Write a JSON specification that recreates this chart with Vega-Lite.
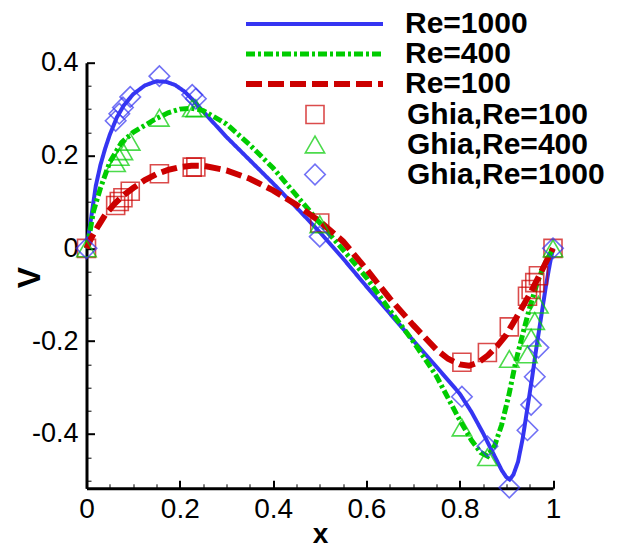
{
  "$schema": "https://vega.github.io/schema/vega-lite/v6.json",
  "width": 466.5,
  "height": 425.6,
  "autosize": {"type": "none"},
  "padding": {"left": 86.5, "top": 62.7, "right": 68, "bottom": 57.7},
  "config": {
    "view": {"stroke": null},
    "font": "Liberation Sans",
    "axis": {"grid": false, "labelFont": "Liberation Sans", "titleFont": "Liberation Sans", "labelColor": "black", "titleColor": "black", "tickColor": "black", "domainColor": "black", "labelFlush": false, "labelOverlap": false, "tickCap": "butt"},
    "legend": {"labelFont": "Liberation Sans", "labelColor": "black", "labelLimit": 0}
  },
  "datasets": {
    "lines": [
      {"re": "Re=1000", "x": 0, "v": 0}, {"re": "Re=1000", "x": 0.005, "v": 0.032}, {"re": "Re=1000", "x": 0.01, "v": 0.066}, {"re": "Re=1000", "x": 0.02, "v": 0.135}, {"re": "Re=1000", "x": 0.03, "v": 0.18}, {"re": "Re=1000", "x": 0.04, "v": 0.215}, {"re": "Re=1000", "x": 0.05, "v": 0.245}, {"re": "Re=1000", "x": 0.065, "v": 0.282}, {"re": "Re=1000", "x": 0.08, "v": 0.308}, {"re": "Re=1000", "x": 0.1, "v": 0.332}, {"re": "Re=1000", "x": 0.125, "v": 0.351}, {"re": "Re=1000", "x": 0.15, "v": 0.36}, {"re": "Re=1000", "x": 0.17, "v": 0.359}, {"re": "Re=1000", "x": 0.19, "v": 0.352}, {"re": "Re=1000", "x": 0.21, "v": 0.338}, {"re": "Re=1000", "x": 0.23, "v": 0.318}, {"re": "Re=1000", "x": 0.25, "v": 0.295}, {"re": "Re=1000", "x": 0.3, "v": 0.24}, {"re": "Re=1000", "x": 0.35, "v": 0.19}, {"re": "Re=1000", "x": 0.4, "v": 0.14}, {"re": "Re=1000", "x": 0.45, "v": 0.088}, {"re": "Re=1000", "x": 0.5, "v": 0.035}, {"re": "Re=1000", "x": 0.55, "v": -0.022}, {"re": "Re=1000", "x": 0.6, "v": -0.082}, {"re": "Re=1000", "x": 0.65, "v": -0.14}, {"re": "Re=1000", "x": 0.7, "v": -0.198}, {"re": "Re=1000", "x": 0.75, "v": -0.255}, {"re": "Re=1000", "x": 0.8, "v": -0.313}, {"re": "Re=1000", "x": 0.825, "v": -0.352}, {"re": "Re=1000", "x": 0.85, "v": -0.398}, {"re": "Re=1000", "x": 0.875, "v": -0.448}, {"re": "Re=1000", "x": 0.89, "v": -0.478}, {"re": "Re=1000", "x": 0.9, "v": -0.493}, {"re": "Re=1000", "x": 0.907, "v": -0.498}, {"re": "Re=1000", "x": 0.915, "v": -0.488}, {"re": "Re=1000", "x": 0.925, "v": -0.46}, {"re": "Re=1000", "x": 0.935, "v": -0.41}, {"re": "Re=1000", "x": 0.945, "v": -0.345}, {"re": "Re=1000", "x": 0.955, "v": -0.28}, {"re": "Re=1000", "x": 0.965, "v": -0.21}, {"re": "Re=1000", "x": 0.975, "v": -0.145}, {"re": "Re=1000", "x": 0.985, "v": -0.08}, {"re": "Re=1000", "x": 0.993, "v": -0.035}, {"re": "Re=1000", "x": 1, "v": 0},
      {"re": "Re=400", "x": 0, "v": 0}, {"re": "Re=400", "x": 0.005, "v": 0.022}, {"re": "Re=400", "x": 0.015, "v": 0.08}, {"re": "Re=400", "x": 0.03, "v": 0.13}, {"re": "Re=400", "x": 0.05, "v": 0.186}, {"re": "Re=400", "x": 0.075, "v": 0.228}, {"re": "Re=400", "x": 0.1, "v": 0.25}, {"re": "Re=400", "x": 0.125, "v": 0.265}, {"re": "Re=400", "x": 0.15, "v": 0.28}, {"re": "Re=400", "x": 0.175, "v": 0.292}, {"re": "Re=400", "x": 0.2, "v": 0.3}, {"re": "Re=400", "x": 0.225, "v": 0.302}, {"re": "Re=400", "x": 0.25, "v": 0.297}, {"re": "Re=400", "x": 0.3, "v": 0.268}, {"re": "Re=400", "x": 0.35, "v": 0.223}, {"re": "Re=400", "x": 0.4, "v": 0.173}, {"re": "Re=400", "x": 0.45, "v": 0.114}, {"re": "Re=400", "x": 0.5, "v": 0.055}, {"re": "Re=400", "x": 0.55, "v": -0.003}, {"re": "Re=400", "x": 0.6, "v": -0.063}, {"re": "Re=400", "x": 0.65, "v": -0.133}, {"re": "Re=400", "x": 0.7, "v": -0.2}, {"re": "Re=400", "x": 0.75, "v": -0.275}, {"re": "Re=400", "x": 0.8, "v": -0.37}, {"re": "Re=400", "x": 0.825, "v": -0.413}, {"re": "Re=400", "x": 0.845, "v": -0.44}, {"re": "Re=400", "x": 0.86, "v": -0.448}, {"re": "Re=400", "x": 0.875, "v": -0.425}, {"re": "Re=400", "x": 0.89, "v": -0.38}, {"re": "Re=400", "x": 0.905, "v": -0.318}, {"re": "Re=400", "x": 0.92, "v": -0.245}, {"re": "Re=400", "x": 0.935, "v": -0.185}, {"re": "Re=400", "x": 0.95, "v": -0.128}, {"re": "Re=400", "x": 0.965, "v": -0.078}, {"re": "Re=400", "x": 0.98, "v": -0.038}, {"re": "Re=400", "x": 1, "v": 0},
      {"re": "Re=100", "x": 0, "v": 0}, {"re": "Re=100", "x": 0.01, "v": 0.022}, {"re": "Re=100", "x": 0.025, "v": 0.048}, {"re": "Re=100", "x": 0.04, "v": 0.072}, {"re": "Re=100", "x": 0.06, "v": 0.096}, {"re": "Re=100", "x": 0.08, "v": 0.115}, {"re": "Re=100", "x": 0.1, "v": 0.13}, {"re": "Re=100", "x": 0.125, "v": 0.147}, {"re": "Re=100", "x": 0.15, "v": 0.16}, {"re": "Re=100", "x": 0.175, "v": 0.169}, {"re": "Re=100", "x": 0.2, "v": 0.175}, {"re": "Re=100", "x": 0.225, "v": 0.178}, {"re": "Re=100", "x": 0.25, "v": 0.178}, {"re": "Re=100", "x": 0.3, "v": 0.168}, {"re": "Re=100", "x": 0.35, "v": 0.15}, {"re": "Re=100", "x": 0.4, "v": 0.125}, {"re": "Re=100", "x": 0.45, "v": 0.094}, {"re": "Re=100", "x": 0.5, "v": 0.058}, {"re": "Re=100", "x": 0.55, "v": 0.015}, {"re": "Re=100", "x": 0.6, "v": -0.045}, {"re": "Re=100", "x": 0.65, "v": -0.108}, {"re": "Re=100", "x": 0.7, "v": -0.165}, {"re": "Re=100", "x": 0.75, "v": -0.218}, {"re": "Re=100", "x": 0.775, "v": -0.238}, {"re": "Re=100", "x": 0.8, "v": -0.25}, {"re": "Re=100", "x": 0.82, "v": -0.253}, {"re": "Re=100", "x": 0.84, "v": -0.246}, {"re": "Re=100", "x": 0.86, "v": -0.231}, {"re": "Re=100", "x": 0.88, "v": -0.211}, {"re": "Re=100", "x": 0.9, "v": -0.186}, {"re": "Re=100", "x": 0.925, "v": -0.143}, {"re": "Re=100", "x": 0.95, "v": -0.099}, {"re": "Re=100", "x": 0.975, "v": -0.05}, {"re": "Re=100", "x": 1, "v": 0}
    ],
    "ghia": [
      {"g": "Ghia,Re=100", "x": 1.0, "v": 0}, {"g": "Ghia,Re=100", "x": 0.9688, "v": -0.05906}, {"g": "Ghia,Re=100", "x": 0.9609, "v": -0.07391}, {"g": "Ghia,Re=100", "x": 0.9531, "v": -0.08864}, {"g": "Ghia,Re=100", "x": 0.9453, "v": -0.10313}, {"g": "Ghia,Re=100", "x": 0.9063, "v": -0.16914}, {"g": "Ghia,Re=100", "x": 0.8594, "v": -0.22445}, {"g": "Ghia,Re=100", "x": 0.8047, "v": -0.24533}, {"g": "Ghia,Re=100", "x": 0.5, "v": 0.05454}, {"g": "Ghia,Re=100", "x": 0.2344, "v": 0.17527}, {"g": "Ghia,Re=100", "x": 0.2266, "v": 0.17507}, {"g": "Ghia,Re=100", "x": 0.1563, "v": 0.16077}, {"g": "Ghia,Re=100", "x": 0.0938, "v": 0.12317}, {"g": "Ghia,Re=100", "x": 0.0781, "v": 0.1089}, {"g": "Ghia,Re=100", "x": 0.0703, "v": 0.10091}, {"g": "Ghia,Re=100", "x": 0.0625, "v": 0.09233}, {"g": "Ghia,Re=100", "x": 0, "v": 0},
      {"g": "Ghia,Re=400", "x": 1.0, "v": 0}, {"g": "Ghia,Re=400", "x": 0.9688, "v": -0.12146}, {"g": "Ghia,Re=400", "x": 0.9609, "v": -0.15663}, {"g": "Ghia,Re=400", "x": 0.9531, "v": -0.19254}, {"g": "Ghia,Re=400", "x": 0.9453, "v": -0.22847}, {"g": "Ghia,Re=400", "x": 0.9063, "v": -0.23827}, {"g": "Ghia,Re=400", "x": 0.8594, "v": -0.44993}, {"g": "Ghia,Re=400", "x": 0.8047, "v": -0.38598}, {"g": "Ghia,Re=400", "x": 0.5, "v": 0.05186}, {"g": "Ghia,Re=400", "x": 0.2344, "v": 0.30174}, {"g": "Ghia,Re=400", "x": 0.2266, "v": 0.30203}, {"g": "Ghia,Re=400", "x": 0.1563, "v": 0.28124}, {"g": "Ghia,Re=400", "x": 0.0938, "v": 0.22965}, {"g": "Ghia,Re=400", "x": 0.0781, "v": 0.2092}, {"g": "Ghia,Re=400", "x": 0.0703, "v": 0.19713}, {"g": "Ghia,Re=400", "x": 0.0625, "v": 0.1836}, {"g": "Ghia,Re=400", "x": 0, "v": 0},
      {"g": "Ghia,Re=1000", "x": 1.0, "v": 0}, {"g": "Ghia,Re=1000", "x": 0.9688, "v": -0.21388}, {"g": "Ghia,Re=1000", "x": 0.9609, "v": -0.27669}, {"g": "Ghia,Re=1000", "x": 0.9531, "v": -0.33714}, {"g": "Ghia,Re=1000", "x": 0.9453, "v": -0.39188}, {"g": "Ghia,Re=1000", "x": 0.9063, "v": -0.5155}, {"g": "Ghia,Re=1000", "x": 0.8594, "v": -0.42665}, {"g": "Ghia,Re=1000", "x": 0.8047, "v": -0.31966}, {"g": "Ghia,Re=1000", "x": 0.5, "v": 0.02526}, {"g": "Ghia,Re=1000", "x": 0.2344, "v": 0.32235}, {"g": "Ghia,Re=1000", "x": 0.2266, "v": 0.33075}, {"g": "Ghia,Re=1000", "x": 0.1563, "v": 0.37095}, {"g": "Ghia,Re=1000", "x": 0.0938, "v": 0.32627}, {"g": "Ghia,Re=1000", "x": 0.0781, "v": 0.30353}, {"g": "Ghia,Re=1000", "x": 0.0703, "v": 0.29012}, {"g": "Ghia,Re=1000", "x": 0.0625, "v": 0.27485}, {"g": "Ghia,Re=1000", "x": 0, "v": 0}
    ]
  },
  "layer": [
    {
      "data": {"name": "lines"},
      "mark": {"type": "line", "strokeCap": "butt"},
      "encoding": {
        "x": {"field": "x", "type": "quantitative", "scale": {"domain": [0, 1], "nice": false, "zero": false},
          "axis": {"orient": "bottom", "values": [0, 0.2, 0.4, 0.6, 0.8, 1], "title": "x", "domainWidth": 3, "ticks": false, "labelFontSize": 28, "labelPadding": 7, "labelExpr": "replace(format(datum.value, '~g'), '\u2212', '-')", "titleFontSize": 28, "titleFontWeight": "bold", "titleX": 233.5, "titleY": 54.5, "titleBaseline": "alphabetic", "titleAlign": "center"}},
        "y": {"field": "v", "type": "quantitative", "scale": {"domain": [-0.517, 0.4], "nice": false, "zero": false},
          "axis": {"orient": "left", "values": [-0.4, -0.2, 0, 0.2, 0.4], "title": "V", "domainWidth": 3, "ticks": false, "labelFontSize": 27, "labelPadding": 8.5, "labelExpr": "replace(format(datum.value, '~g'), '\u2212', '-')", "titleFontSize": 32, "titleFontWeight": "bold", "titleX": -57.5, "titleY": 214.3, "titleAngle": -90, "titleBaseline": "middle", "titleAlign": "center"}},
        "color": {"field": "re", "type": "nominal", "scale": {"domain": ["Re=1000", "Re=400", "Re=100"], "range": ["#3535f2", "#00cc00", "#cc0000"]},
          "legend": {"orient": "none", "legendX": 156.5, "legendY": -53.7, "title": null, "symbolType": "stroke", "symbolSize": 18769, "labelFontSize": 30, "labelFontWeight": "bold", "labelOffset": 19, "clipHeight": 30, "rowPadding": 0, "padding": 0, "columns": 1}},
        "strokeDash": {"field": "re", "type": "nominal", "scale": {"domain": ["Re=1000", "Re=400", "Re=100"], "range": [[1, 0], [9, 3, 3, 3], [16, 6]]},
          "legend": {"orient": "none", "legendX": 156.5, "legendY": -53.7, "title": null, "symbolType": "stroke", "symbolSize": 18769, "labelFontSize": 30, "labelFontWeight": "bold", "labelOffset": 19, "clipHeight": 30, "rowPadding": 0, "padding": 0, "columns": 1}},
        "strokeWidth": {"field": "re", "type": "nominal", "scale": {"domain": ["Re=1000", "Re=400", "Re=100"], "range": [4, 6, 4.5]},
          "legend": {"orient": "none", "legendX": 156.5, "legendY": -53.7, "title": null, "symbolType": "stroke", "symbolSize": 18769, "labelFontSize": 30, "labelFontWeight": "bold", "labelOffset": 19, "clipHeight": 30, "rowPadding": 0, "padding": 0, "columns": 1}}
      }
    },
    {
      "data": {"name": "ghia"},
      "mark": {"type": "point", "filled": false, "strokeWidth": 1.6},
      "encoding": {
        "x": {"field": "x", "type": "quantitative", "scale": {"domain": [0, 1], "nice": false, "zero": false},
          "axis": {"orient": "bottom", "offset": -8, "values": [0, 0.2, 0.4, 0.6, 0.8, 1], "title": null, "domain": false, "labels": false, "tickSize": 8, "tickWidth": 2}},
        "y": {"field": "v", "type": "quantitative", "scale": {"domain": [-0.517, 0.4], "nice": false, "zero": false},
          "axis": {"orient": "left", "offset": -8, "values": [-0.4, -0.2, 0, 0.2, 0.4], "title": null, "domain": false, "labels": false, "tickSize": 8, "tickWidth": 2}},
        "color": {"field": "g", "type": "nominal", "scale": {"domain": ["Ghia,Re=100", "Ghia,Re=400", "Ghia,Re=1000"], "range": ["#cc0000", "#00cc00", "#3535f2"]},
          "legend": {"orient": "none", "legendX": 213.5, "legendY": 36.8, "title": null, "labelFontSize": 30, "labelFontWeight": "bold", "labelOffset": 77, "clipHeight": 30, "rowPadding": 0, "padding": 0, "columns": 1, "symbolStrokeWidth": 1.6}},
        "shape": {"field": "g", "type": "nominal", "scale": {"domain": ["Ghia,Re=100", "Ghia,Re=400", "Ghia,Re=1000"], "range": ["square", "triangle-up", "diamond"]},
          "legend": {"orient": "none", "legendX": 213.5, "legendY": 36.8, "title": null, "labelFontSize": 30, "labelFontWeight": "bold", "labelOffset": 77, "clipHeight": 30, "rowPadding": 0, "padding": 0, "columns": 1, "symbolStrokeWidth": 1.6}},
        "size": {"field": "g", "type": "nominal", "scale": {"domain": ["Ghia,Re=100", "Ghia,Re=400", "Ghia,Re=1000"], "range": [324, 420, 529]},
          "legend": {"orient": "none", "legendX": 213.5, "legendY": 36.8, "title": null, "labelFontSize": 30, "labelFontWeight": "bold", "labelOffset": 77, "clipHeight": 30, "rowPadding": 0, "padding": 0, "columns": 1, "symbolStrokeWidth": 1.6}}
      }
    },
    {
      "data": {"name": "lines"},
      "mark": {"type": "point", "opacity": 0},
      "encoding": {
        "x": {"field": "x", "type": "quantitative", "scale": {"domain": [0, 1], "nice": false, "zero": false},
          "axis": {"orient": "bottom", "offset": -4.5, "values": [0.05, 0.1, 0.15, 0.25, 0.3, 0.35, 0.45, 0.5, 0.55, 0.65, 0.7, 0.75, 0.85, 0.9, 0.95], "title": null, "domain": false, "labels": false, "tickSize": 4.5, "tickWidth": 1}},
        "y": {"field": "v", "type": "quantitative", "scale": {"domain": [-0.517, 0.4], "nice": false, "zero": false},
          "axis": {"orient": "left", "offset": -4.5, "values": [-0.5, -0.45, -0.35, -0.3, -0.25, -0.15, -0.1, -0.05, 0.05, 0.1, 0.15, 0.25, 0.3, 0.35], "title": null, "domain": false, "labels": false, "tickSize": 4.5, "tickWidth": 1}}
      }
    }
  ],
  "resolve": {"scale": {"color": "independent", "strokeDash": "independent", "strokeWidth": "independent", "shape": "independent", "size": "independent"}, "axis": {"x": "independent", "y": "independent"}}
}
